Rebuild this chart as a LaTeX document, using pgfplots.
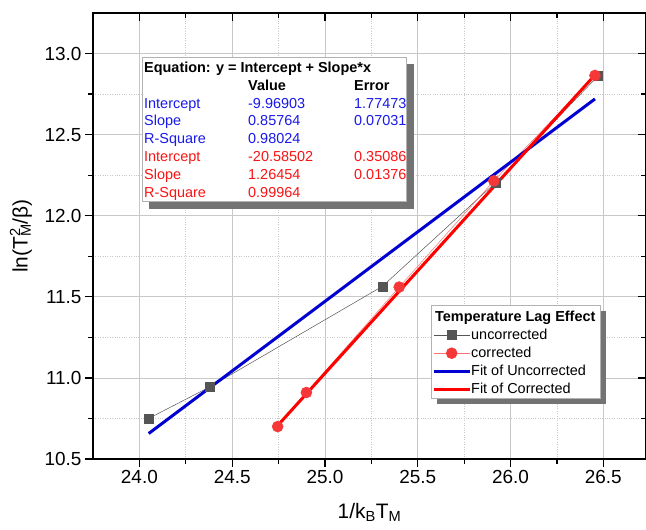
\documentclass[border=0pt]{standalone}
\usepackage{pgfplots}
\pgfplotsset{compat=1.18}
\usepackage{fontspec}
\setmainfont{Liberation Sans}
\definecolor{fitblue}{RGB}{0,0,210}
\definecolor{fitred}{RGB}{255,0,0}
\definecolor{sqgray}{RGB}{85,85,85}
\definecolor{ptred}{RGB}{245,55,55}
\definecolor{gridgray}{RGB}{200,200,200}
\definecolor{tabblue}{RGB}{25,25,235}
\definecolor{tabred}{RGB}{250,20,20}
\definecolor{shadow}{RGB}{115,115,115}
\begin{document}
\begin{tikzpicture}
\pgfplotsset{
  common/.style={
    scale only axis, width=553bp, height=446bp,
    xmin=23.75, xmax=26.73, ymin=10.5, ymax=13.25,
    xtick={24,24.5,...,26.5}, ytick={10.5,11,...,13},
    minor x tick num=1, minor y tick num=1,
    major tick length=8bp, minor tick length=5bp,
    axis line style={line width=1.3bp},
    every tick/.style={black, line width=1.2bp},
  }
}
\begin{axis}[common,
  xtick pos=left, ytick pos=left, tick align=outside,
  grid=both,
  major grid style={gridgray, line width=0.8bp},
  minor grid style={gridgray, dotted, line width=0.6bp},
  /pgf/number format/assume math mode=true,
  tick label style={font=\fontsize{19}{22}\selectfont},
  xticklabel style={/pgf/number format/.cd, fixed, fixed zerofill, precision=1},
  yticklabel style={/pgf/number format/.cd, fixed, fixed zerofill, precision=1},
  xlabel={1/k\textsubscript{B}T\textsubscript{M}},
  ylabel={ln(T\rlap{\textsuperscript{2}}\textsubscript{M}/β)},
  label style={font=\fontsize{21}{24}\selectfont},
  xlabel style={at={(axis description cs:0.5,-0.1323)}, anchor=base},
  ylabel style={at={(axis description cs:-0.1302,0.5)}, anchor=center},
  legend cell align=left,
  legend image code/.code={\draw[mark repeat=2,mark phase=2] plot coordinates {(0bp,0bp)(18bp,0bp)(36bp,0bp)};},
  legend style={at={(axis description cs:0.6130,0.2982)}, anchor=north west,
    draw=none, fill=none, inner sep=0pt, row sep=0pt,
    font=\fontsize{14.5}{18}\selectfont,
    nodes={inner sep=0pt, text height=13bp, text depth=5bp},
    /tikz/every even column/.append style={column sep=4bp}},
]
% equation box
\fill[shadow] ([shift={(7bp,-7bp)}]axis description cs:0.0892,0.9007) rectangle ([shift={(7bp,-7bp)}]axis description cs:0.5673,0.5769);
\filldraw[fill=white, draw=gray!60, line width=0.6bp] (axis description cs:0.0892,0.9007) rectangle (axis description cs:0.5673,0.5769);
\node[anchor=base west, inner sep=0pt, font=\fontsize{14.5}{18}\selectfont] at (axis description cs:0.0922,0.8673) {%
\begin{tabular}[t]{@{}l@{}l@{}l@{}}
\multicolumn{3}{@{}l@{}}{\bfseries Equation: y = Intercept + Slope*x}\\
\makebox[104bp][l]{} & \makebox[106bp][l]{\bfseries Value} & \bfseries Error\\
\color{tabblue}Intercept & \color{tabblue}-9.96903 & \color{tabblue}1.77473\\
\color{tabblue}Slope & \color{tabblue}0.85764 & \color{tabblue}0.07031\\
\color{tabblue}R-Square & \color{tabblue}0.98024 & \\
\color{tabred}Intercept & \color{tabred}-20.58502 & \color{tabred}0.35086\\
\color{tabred}Slope & \color{tabred}1.26454 & \color{tabred}0.01376\\
\color{tabred}R-Square & \color{tabred}0.99964 & \\
\end{tabular}};
% legend box
\fill[shadow] ([shift={(6bp,-6bp)}]axis description cs:0.6112,0.3453) rectangle ([shift={(6bp,-6bp)}]axis description cs:0.9168,0.1368);
\filldraw[fill=white, draw=gray!60, line width=0.6bp] (axis description cs:0.6112,0.3453) rectangle (axis description cs:0.9168,0.1368);
\node[anchor=base west, inner sep=0pt, font=\bfseries\fontsize{14.5}{18}\selectfont] at (axis description cs:0.6184,0.3072) {Temperature Lag Effect};

\addplot[sqgray, line width=0.5bp, mark=square*, mark size=4.5bp, mark options={solid, fill=sqgray, draw=sqgray}]
  coordinates {(24.05,10.75) (24.38,10.945) (25.31,11.565) (25.92,12.205) (26.47,12.86)};
\addlegendentry{uncorrected}
\addplot[ptred!70, line width=0.5bp, mark=*, mark size=5.5bp, mark options={solid, fill=ptred, draw=ptred}]
  coordinates {(24.745,10.70) (24.90,10.91) (25.40,11.56) (25.91,12.215) (26.455,12.865)};
\addlegendentry{corrected}
\addplot[fitblue, line width=3bp] coordinates {(24.05,10.657) (26.455,12.720)};
\addlegendentry{Fit of Uncorrected}
\addplot[fitred, line width=3bp] coordinates {(24.745,10.706) (26.455,12.868)};
\addlegendentry{Fit of Corrected}
\end{axis}
\begin{axis}[common,
  xtick pos=right, ytick pos=right, tick align=inside,
  xticklabels={}, yticklabels={},
]
\end{axis}
\pgfresetboundingbox
\path[use as bounding box] ([shift={(-93bp,-71bp)}]current axis.south west) rectangle ([shift={(0bp,13bp)}]current axis.north east);
\end{tikzpicture}
\end{document}
